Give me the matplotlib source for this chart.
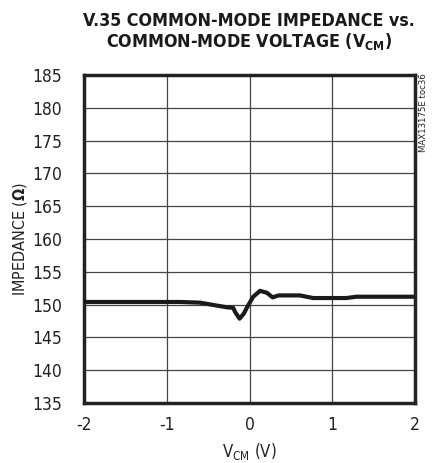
import matplotlib
matplotlib.use("Agg")
import matplotlib.pyplot as plt
from matplotlib import font_manager

# Prefer a condensed face if one is installed
fam = 'Liberation Sans'
stretch = 'normal'
cond = False
for f in font_manager.fontManager.ttflist:
    if f.name == 'Liberation Sans Narrow':
        fam, cond = 'Liberation Sans Narrow', True
        break
if not cond:
    for f in font_manager.fontManager.ttflist:
        if f.name == 'DejaVu Sans' and 'Condensed' in f.fname:
            fam, stretch, cond = 'DejaVu Sans', 'condensed', True
            break

plt.rcParams['font.family'] = [fam, 'DejaVu Sans']
plt.rcParams['font.stretch'] = stretch
plt.rcParams['mathtext.fontset'] = 'custom'
plt.rcParams['mathtext.rm'] = fam
plt.rcParams['mathtext.bf'] = fam + ':bold'

k = 1.0 if cond else 0.92  # size factor

# Data
vcm = [-2.0, -0.84, -0.60, -0.28, -0.196, -0.175, -0.12, -0.07, -0.02, 0.045,
       0.127, 0.21, 0.28, 0.35, 0.61, 0.77, 1.17, 1.29, 2.0]
impedance = [150.4, 150.4, 150.3, 149.6, 149.5, 148.9, 147.85, 148.6, 149.8, 151.2,
             152.1, 151.8, 151.1, 151.4, 151.4, 151.0, 151.0, 151.2, 151.2]
xticks = [-2, -1, 0, 1, 2]
yticks = [135, 140, 145, 150, 155, 160, 165, 170, 175, 180, 185]

fig = plt.figure(figsize=(4.38, 4.63), dpi=100)
ax = fig.add_axes([84/438, 1-403/463, 331/438, 328/463])

ax.plot(vcm, impedance, color='#1a1a1a', lw=3, solid_joinstyle='round', zorder=3)
ax.set_xlim(-2, 2)
ax.set_ylim(135, 185)
ax.set_xticks(xticks)
ax.set_xticklabels([str(t) if t >= 0 else '-' + str(-t) for t in xticks])
ax.set_yticks(yticks)
ax.grid(True, color='#444444', lw=0.9)
ax.tick_params(length=0, labelsize=12.5*k, pad=9, colors='#222222')
ax.tick_params(axis='y', pad=16)
for s in ax.spines.values():
    s.set_linewidth(2.5)
    s.set_color('#222222')

ax.set_xlabel(r'V$\mathregular{_{CM}}$ (V)', fontsize=12*k, color='#222222', va='center')
ax.xaxis.set_label_coords(0.5, -(451-403)/328)
ax.set_ylabel(r'IMPEDANCE ($\mathbf{\Omega}$)', fontsize=11.5*k, color='#222222')
ax.yaxis.set_label_coords(-(84-29)/331, 0.5)

fig.text(249/438, 1-21/463, 'V.35 COMMON-MODE IMPEDANCE vs.', ha='center', va='center',
         fontsize=12.8*k, fontweight='bold', color='#1a1a1a')
fig.text(249/438, 1-42/463, r'COMMON-MODE VOLTAGE (V$\mathbf{_{CM}}$)', ha='center', va='center',
         fontsize=12.8*k, fontweight='bold', color='#1a1a1a')
fig.text(423/438, 1-73/463, 'MAX13175E toc36', rotation=90, ha='center', va='top',
         fontsize=6.8, color='#222222')

fig.savefig('out.png', dpi=100)
